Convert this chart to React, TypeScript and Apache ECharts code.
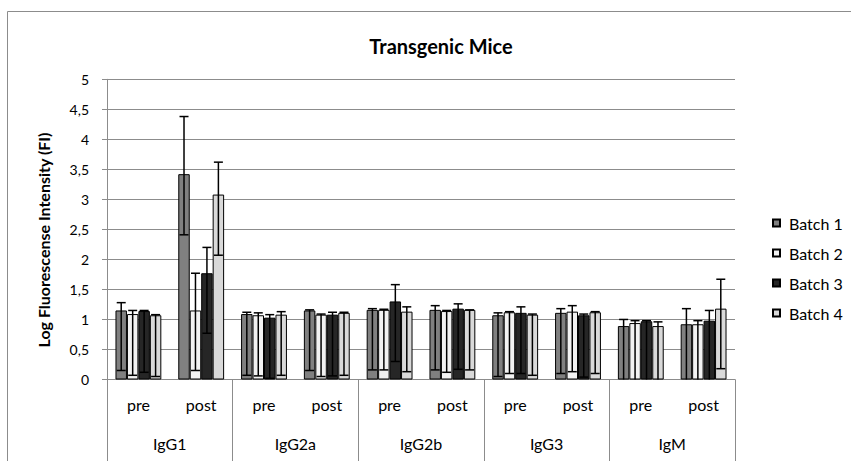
import React, { useEffect, useRef } from "react";
import * as echarts from "echarts";

const subCategories = ["pre", "post", "pre", "post", "pre", "post", "pre", "post", "pre", "post"];
const groups = ["IgG1", "IgG2a", "IgG2b", "IgG3", "IgM"];
const batchNames = ["Batch 1", "Batch 2", "Batch 3", "Batch 4"];
const batchColors = ["#808080", "#f2f2f2", "#262626", "#d9d9d9"];

const batch1 = [1.15, 3.42, 1.09, 1.15, 1.16, 1.16, 1.07, 1.11, 0.89, 0.92];
const batch2 = [1.09, 1.15, 1.07, 1.08, 1.16, 1.14, 1.12, 1.13, 0.94, 0.92];
const batch3 = [1.14, 1.77, 1.03, 1.08, 1.3, 1.18, 1.11, 1.07, 0.97, 0.98];
const batch4 = [1.07, 3.08, 1.08, 1.11, 1.13, 1.16, 1.08, 1.12, 0.89, 1.18];

const batch1High = [1.28, 4.38, 1.12, 1.16, 1.18, 1.23, 1.11, 1.18, 1.0, 1.18];
const batch2High = [1.15, 1.77, 1.11, 1.09, 1.17, 1.15, 1.13, 1.23, 0.98, 0.98];
const batch3High = [1.15, 2.2, 1.08, 1.12, 1.58, 1.26, 1.21, 1.09, 0.98, 1.15];
const batch4High = [1.08, 3.62, 1.13, 1.12, 1.21, 1.16, 1.09, 1.13, 0.96, 1.67];

const batch1Low = [0.15, 2.41, 0.07, 0.15, 0.16, 0.16, 0.05, 0.1, -0.11, -0.08];
const batch2Low = [0.07, 0.15, 0.06, 0.05, 0.16, 0.12, 0.1, 0.13, -0.06, -0.08];
const batch3Low = [0.12, 0.77, 0.02, 0.06, 0.3, 0.17, 0.1, 0.04, -0.03, -0.02];
const batch4Low = [0.05, 2.07, 0.07, 0.07, 0.13, 0.16, 0.07, 0.1, -0.11, 0.18];

const yMin = 0;
const yMax = 5;
const yInterval = 0.5;

const values = [batch1, batch2, batch3, batch4];
const highs = [batch1High, batch2High, batch3High, batch4High];
const lows = [batch1Low, batch2Low, batch3Low, batch4Low];

const FONT = "Lato, 'Open Sans', sans-serif";
const CAT_GAP = 0.27;

export default function App() {
  const ref = useRef<HTMLDivElement>(null);
  useEffect(() => {
    if (!ref.current) return;
    const chart = echarts.init(ref.current, undefined, { renderer: "svg" });

    const barSeries = values.map((vals, k) => ({
      name: batchNames[k],
      type: "bar",
      xAxisIndex: 0,
      yAxisIndex: 0,
      data: vals,
      barGap: "0%",
      barCategoryGap: CAT_GAP * 100 + "%",
      itemStyle: { color: batchColors[k], borderColor: "#000", borderWidth: 1 },
      z: 2,
    }));

    const errSeries = values.map((vals, k) => ({
      name: "err" + (k + 1),
      type: "custom",
      xAxisIndex: 0,
      yAxisIndex: 0,
      z: 5,
      silent: true,
      encode: { x: 0, y: [1, 2] },
      data: vals.map((_, i) => [i, lows[k][i], highs[k][i]]),
      renderItem: (params: any, api: any) => {
        const idx = api.value(0);
        const lo = api.value(1);
        const hi = api.value(2);
        const base = api.coord([idx, 0]);
        const band = api.size([1, 0])[0];
        const barW = (band * (1 - CAT_GAP)) / 4;
        const cx = base[0] + (k - 1.5) * barW;
        const yHi = api.coord([idx, hi])[1];
        const yLo = api.coord([idx, Math.max(lo, 0)])[1];
        const cap = 4.5;
        const style = { stroke: "#000", lineWidth: 1.5 };
        const children: any[] = [
          { type: "line", shape: { x1: cx, y1: yHi, x2: cx, y2: yLo }, style },
          { type: "line", shape: { x1: cx - cap, y1: yHi, x2: cx + cap, y2: yHi }, style },
        ];
        if (lo >= 0) {
          children.push({ type: "line", shape: { x1: cx - cap, y1: yLo, x2: cx + cap, y2: yLo }, style });
        }
        return { type: "group", children };
      },
    }));

    chart.setOption({
      animation: false,
      backgroundColor: "#fff",
      textStyle: { fontFamily: FONT },
      title: {
        text: "Transgenic Mice",
        left: 436,
        top: 31,
        textAlign: "center",
        textStyle: { fontFamily: FONT, fontSize: 20, fontWeight: "bold", color: "#000" },
      },
      legend: {
        data: batchNames,
        orient: "vertical",
        left: 767,
        top: 209,
        itemWidth: 7,
        itemHeight: 7,
        itemGap: 12,
        icon: "rect",
        textStyle: { fontFamily: FONT, fontSize: 16, color: "#000", lineHeight: 18, padding: [0, 0, 0, 4] },
      },
      grid: { left: 107, right: 116, top: 79.3, bottom: 81.5, containLabel: false },
      xAxis: [
        {
          type: "category",
          data: subCategories,
          position: "bottom",
          axisLine: { show: true, lineStyle: { color: "#8c8c8c", width: 1 } },
          axisTick: { show: false },
          axisLabel: { margin: 17, fontSize: 16, color: "#000", fontFamily: FONT },
          splitLine: { show: false },
        },
        {
          type: "category",
          data: groups,
          position: "bottom",
          axisLine: { show: false },
          axisTick: { show: true, length: 90, lineStyle: { color: "#8c8c8c", width: 1 } },
          axisLabel: { margin: 56, fontSize: 16, color: "#000", fontFamily: FONT },
          splitLine: { show: false },
        },
      ],
      yAxis: {
        type: "value",
        min: yMin,
        max: yMax,
        interval: yInterval,
        axisLine: { show: true, lineStyle: { color: "#8c8c8c", width: 1 } },
        axisTick: { show: true, length: 5, lineStyle: { color: "#8c8c8c" } },
        splitLine: { show: true, lineStyle: { color: "#8c8c8c", width: 1 } },
        axisLabel: {
          margin: 18,
          fontSize: 14,
          color: "#000",
          fontFamily: FONT,
          formatter: (v: number) => String(v).replace(".", ","),
        },
      },
      graphic: [
        {
          type: "rect",
          silent: true,
          shape: { x: 7.5, y: 11.5, width: 1000, height: 1000 },
          style: { fill: "none", stroke: "#8c8c8c", lineWidth: 1 },
        },
        {
          type: "text",
          x: 43,
          y: 240,
          rotation: Math.PI / 2,
          style: {
            text: "Log Fluorescense Intensity (FI)",
            fontFamily: FONT,
            fontSize: 16,
            fontWeight: "bold",
            fill: "#000",
            align: "center",
            verticalAlign: "middle",
          },
        },
      ],
      series: [...barSeries, ...errSeries],
    });

    return () => chart.dispose();
  }, []);

  return (
    <div
      ref={ref}
      style={{ position: "fixed", left: 0, top: 0, width: 851, height: 461, background: "#fff" }}
    />
  );
}
